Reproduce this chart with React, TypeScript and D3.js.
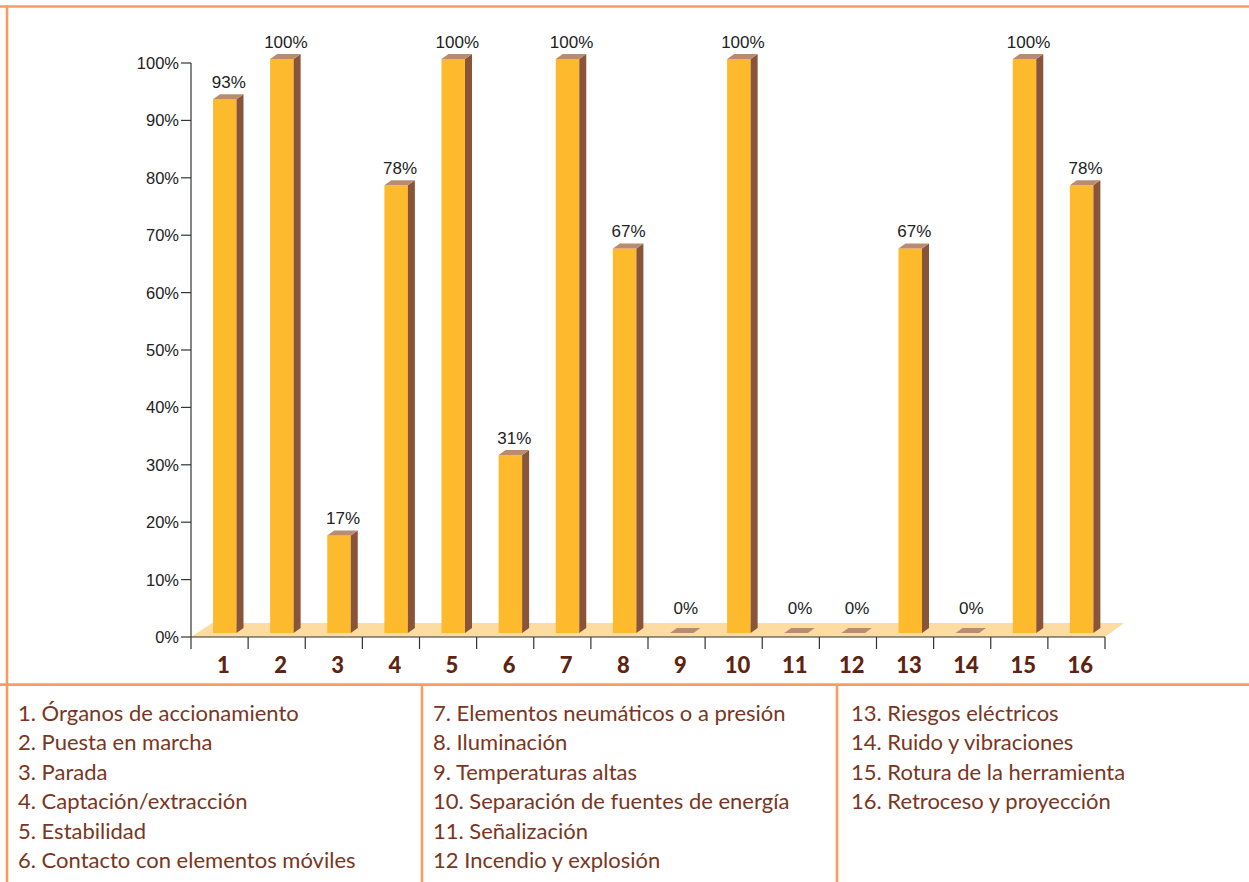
import React from "react";
import * as d3 from "d3";

const categories = ["1","2","3","4","5","6","7","8","9","10","11","12","13","14","15","16"];
const values = [93,100,17,78,100,31,100,67,0,100,0,0,67,0,100,78];
const yTicks = [0,10,20,30,40,50,60,70,80,90,100];
const legendCol1 = ["1. Órganos de accionamiento","2. Puesta en marcha","3. Parada","4. Captación/extracción","5. Estabilidad","6. Contacto con elementos móviles"];
const legendCol2 = ["7. Elementos neumáticos o a presión","8. Iluminación","9. Temperaturas altas","10. Separación de fuentes de energía","11. Señalización","12 Incendio y explosión"];
const legendCol3 = ["13. Riesgos eléctricos","14. Ruido y vibraciones","15. Rotura de la herramienta","16. Retroceso y proyección"];

const W = 1249, H = 882;
const FRONT = "#FDBA2C", SIDE = "#8A5438", TOP = "#B98C72", FLOOR = "#FDDCA2";
const BORDER = "#F79D62";
const AXIS = "#333";
const LEG = "#7A3620";

export default function App() {
  const x = d3.scaleBand<string>().domain(categories).range([191, 1105]).padding(0);
  const y = d3.scaleLinear().domain([0, 100]).range([637, 63]);
  const faceOff = 22, faceW = 23.5, dx = 7, dy = 5, lift = 4;
  const y0 = y(0);
  const legendRows = [legendCol1, legendCol2, legendCol3];
  const legendX = [18, 433, 851];

  return (
    <>
      <style>{"body{margin:0}"}</style>
      <svg width={W} height={H} style={{ display: "block", background: "#fff" }}>
        {/* borders */}
        <line x1={0} x2={W} y1={6.5} y2={6.5} stroke={BORDER} strokeWidth={2.6} />
        <line x1={7} x2={7} y1={5.2} y2={H} stroke={BORDER} strokeWidth={2.6} />
        <line x1={0} x2={W} y1={684.7} y2={684.7} stroke={BORDER} strokeWidth={2.7} />
        <line x1={422} x2={422} y1={684} y2={H} stroke={BORDER} strokeWidth={2.6} />
        <line x1={837} x2={837} y1={684} y2={H} stroke={BORDER} strokeWidth={2.6} />

        {/* floor */}
        <polygon
          points={`${x.range()[0]},${y0} ${x.range()[0] + 21},${y0 - 14} ${x.range()[1] + 19},${y0 - 14} ${x.range()[1]},${y0}`}
          fill={FLOOR}
        />

        {/* y axis */}
        <line x1={191} x2={191} y1={y(100)} y2={y0} stroke={AXIS} strokeWidth={1.2} />
        {yTicks.map(t => (
          <g key={t}>
            <line x1={181} x2={191} y1={y(t)} y2={y(t)} stroke={AXIS} strokeWidth={1.2} />
            <text x={179} y={y(t)} dy="0.36em" textAnchor="end" fontFamily="Liberation Sans, Arial, sans-serif" fontSize={16.5} fill="#222">{t}%</text>
          </g>
        ))}

        {/* x axis */}
        <line x1={191} x2={1105} y1={y0} y2={y0} stroke={AXIS} strokeWidth={1.2} />
        {[...categories.map(c => x(c)!), x.range()[1]].map((px, i) => (
          <line key={i} x1={px} x2={px} y1={y0} y2={y0 + 12} stroke={AXIS} strokeWidth={1.2} />
        ))}
        {categories.map(c => (
          <text key={c} x={x(c)! + 32.5} y={673} textAnchor="middle" fontFamily="Lato, sans-serif" fontWeight={900} fontSize={22} fill="#5E2412">{c}</text>
        ))}

        {/* bars */}
        {categories.map((c, i) => {
          const v = values[i];
          const x0 = x(c)! + faceOff, x1 = x0 + faceW;
          const bot = y0 - lift, top = y(v) - lift;
          return (
            <g key={c}>
              {v > 0 && <rect x={x0} y={top} width={faceW} height={bot - top} fill={FRONT} />}
              {v > 0 && <polygon points={`${x1},${top} ${x1 + dx},${top - dy} ${x1 + dx},${bot - dy} ${x1},${bot}`} fill={SIDE} />}
              <polygon points={`${x0},${top} ${x0 + dx},${top - dy} ${x1 + dx},${top - dy} ${x1},${top}`} fill={TOP} />
              <text x={x0 + faceW / 2 + 4} y={v > 0 ? top - 11.5 : top - 19} textAnchor="middle" fontFamily="Liberation Sans, Arial, sans-serif" fontSize={17} fill="#222">{v}%</text>
            </g>
          );
        })}

        {/* legend */}
        {legendRows.map((col, ci) => col.map((t, ri) => (
          <text key={`${ci}-${ri}`} x={legendX[ci]} y={720.7 + ri * 29.5} fontFamily="Lato, sans-serif" fontSize={22} fill={LEG}>{t}</text>
        )))}
      </svg>
    </>
  );
}
